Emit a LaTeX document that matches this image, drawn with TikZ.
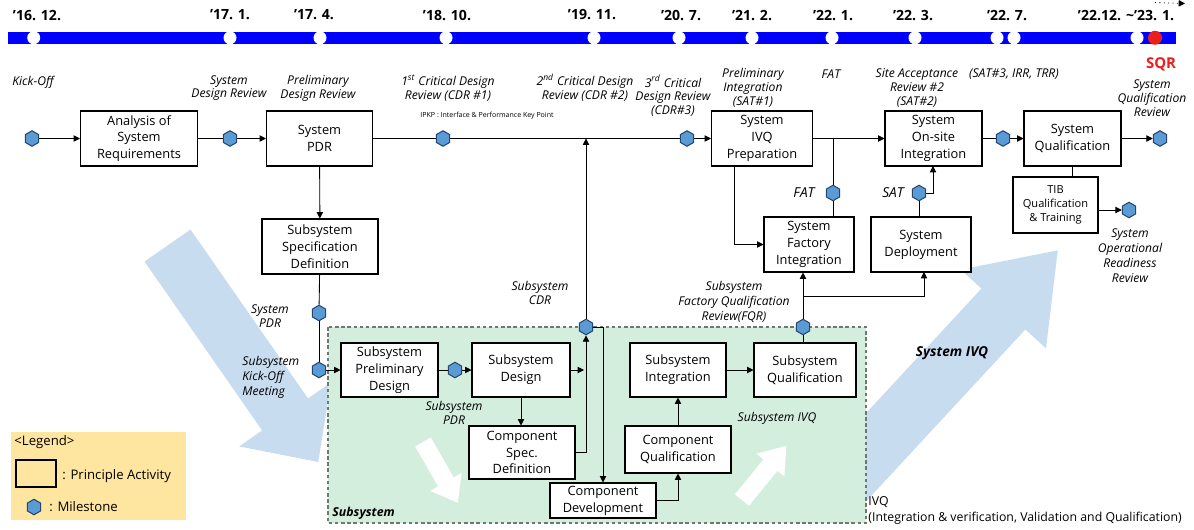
\documentclass[tikz,border=0pt]{standalone}
\usepackage{fontspec}
\setmainfont{Open Sans}
\usetikzlibrary{arrows.meta,shapes.geometric}
\definecolor{tlblue}{RGB}{0,0,255}
\definecolor{msblue}{RGB}{91,155,213}
\definecolor{msline}{RGB}{38,70,110}
\definecolor{subgreen}{RGB}{212,238,222}
\definecolor{subedge}{RGB}{110,120,115}
\definecolor{bigarrow}{RGB}{200,220,240}
\definecolor{legendbg}{RGB}{255,230,160}
\definecolor{sqrred}{RGB}{235,30,30}
\begin{document}
\begin{tikzpicture}[x=0.02cm, y=-0.02cm, >={Triangle[length=3.6pt,width=3.6pt]}, line width=0.5pt,
  act/.style={draw, line width=0.6pt, fill=white, align=center, inner sep=1pt, font=\fontsize{7.3}{9.6}\selectfont},
  ms/.style={regular polygon, regular polygon sides=6, shape border rotate=90, draw=msline, fill=msblue, line width=0.6pt, minimum size=0.31cm, inner sep=0pt},
  lbl/.style={align=center, inner sep=0pt, font=\fontsize{6.9}{7.9}\selectfont\itshape},
  tl/.style={inner sep=0pt, font=\fontsize{8}{9.6}\selectfont\bfseries},
  legendtxt/.style={inner sep=0pt, font=\fontsize{7.5}{9}\selectfont}]
\useasboundingbox (0,0) rectangle (1194,529);

% big V arrows
\fill[bigarrow] (144.5,261.5) -- (190.5,229.5) -- (308.1,398.4) -- (331,382.4) -- (318.2,462) -- (239.2,446.4) -- (262.1,430.4) -- cycle;
\fill[bigarrow] (823,459.6) -- (981.4,288.6) -- (960.8,269.6) -- (1057.8,250.3) -- (1046,348.4) -- (1025.4,329.4) -- (867,500.4) -- cycle;

% subsystem area
\draw[draw=subedge, fill=subgreen, line width=0.6pt, dash pattern=on 2pt off 1.5pt] (328,327) rectangle (866,523);
\fill[white] (415.2,446.5) -- (430.8,437.5) -- (453.7,477.4) -- (461.5,472.9) -- (457.9,502.8) -- (430.3,490.9) -- (438.1,486.4) -- cycle;
\fill[white] (735,494.3) -- (763.4,459.4) -- (756.4,453.7) -- (786.2,445.8) -- (784.4,476.5) -- (777.4,470.8) -- (749,505.7) -- cycle;
\node[anchor=west, inner sep=0pt, font=\fontsize{7}{8}\selectfont\bfseries\itshape] (subttl) at (332,513) {Subsystem};

% legend
\fill[legendbg] (11,432) rectangle (186,520);
\node[anchor=west, legendtxt] (lgd) at (14,442) {\textless Legend\textgreater};
\node[draw, line width=0.6pt, minimum width=0.8cm, minimum height=0.54cm] (lgbox) at (36,473.5) {};
\node[anchor=west, legendtxt] (lgact) at (62,476) {: Principle Activity};
\node[ms] (lgms) at (34,507) {};
\node[anchor=west, legendtxt] (lgmst) at (49,507) {: Milestone};

% timeline
\fill[tlblue] (8,32) rectangle (1176,43.5);
\foreach \x in {33.7,230,320,446,594,679,752,832,915,997,1014,1137}
  \fill[white] (\x,37.75) circle (6.5);
\fill[sqrred] (1155,37.75) circle (7);
\coordinate (sqrprev) at (1155,2.5);
\coordinate (sqrnext) at (1185,3.5);
\draw[->, dotted] (sqrprev) -- (sqrnext);
\node[tl] (t1) at (37,15) {’16. 12.};
\node[tl] (t2) at (230,15) {’17. 1.};
\node[tl] (t3) at (314,15) {’17. 4.};
\node[tl] (t4) at (447,15) {’18. 10.};
\node[tl] (t5) at (592,15) {’19. 11.};
\node[tl] (t6) at (681,15) {’20. 7.};
\node[tl] (t7) at (752,15) {’21. 2.};
\node[tl] (t8) at (833,15) {’22. 1.};
\node[tl] (t9) at (913,15) {’22. 3.};
\node[tl] (t10) at (1007,15) {’22. 7.};
\node[tl] (t11) at (1126,15) {’22.12. \textasciitilde’23. 1.};
\node[inner sep=0pt, text=sqrred, font=\fontsize{8.5}{10}\selectfont\bfseries] (sqr) at (1161,64) {SQR};

% system level
\node[ms] (h0) at (32,138.5) {};
\node[act, minimum width=2.34cm, minimum height=1.1cm] (asr) at (139,138.5) {Analysis of\\System\\Requirements};
\node[ms] (h1) at (230,138.5) {};
\node[act, minimum width=2.12cm, minimum height=1.1cm] (spdr) at (319.5,138.5) {System\\PDR};
\node[ms] (h2) at (443,138.5) {};
\node[ms] (h3) at (687,138.5) {};
\node[act, minimum width=2.02cm, minimum height=1.1cm] (ivqp) at (762,138.5) {System\\IVQ\\Preparation};
\node[act, minimum width=1.94cm, minimum height=1.1cm] (osi) at (933.5,138.5) {System\\On-site\\Integration};
\node[ms] (h4) at (1003,138.5) {};
\node[act, minimum width=1.94cm, minimum height=1.1cm] (sq) at (1072.5,138.5) {System\\Qualification};
\node[ms] (h5) at (1160,138.5) {};
\node[act, minimum width=1.7cm, minimum height=1.12cm, font=\fontsize{6.3}{7.9}\selectfont] (tib) at (1055.5,205) {TIB\\Qualification\\\& Training};
\node[ms] (horr) at (1129,210) {};
\node[act, minimum width=2.32cm, minimum height=1.1cm] (ssd) at (320,246.5) {Subsystem\\Specification\\Definition};
\node[act, minimum width=1.8cm, minimum height=1.1cm] (sfi) at (809,244.5) {System\\Factory\\Integration};
\node[act, minimum width=2cm, minimum height=1.1cm] (sdep) at (921,244.5) {System\\Deployment};
\node[ms] (hfat) at (833,193) {};
\node[ms] (hsat) at (919,193) {};
\node[ms] (hpdr) at (319,313) {};
\node[ms] (hkom) at (319,370) {};

% subsystem level
\node[act, minimum width=1.94cm, minimum height=1.08cm] (spd) at (389.5,370) {Subsystem\\Preliminary\\Design};
\node[ms] (hspdr) at (455,370) {};
\node[act, minimum width=1.96cm, minimum height=1.08cm] (sd) at (521,370) {Subsystem\\Design};
\node[act, minimum width=2.12cm, minimum height=1.06cm] (csd) at (522,452.5) {Component\\Spec.\\Definition};
\node[act, minimum width=2.12cm, minimum height=0.7cm] (cd) at (603,500.5) {Component\\Development};
\node[act, minimum width=2.12cm, minimum height=0.94cm] (cq) at (678,449.5) {Component\\Qualification};
\node[act, minimum width=1.92cm, minimum height=1.08cm] (si) at (678,370) {Subsystem\\Integration};
\node[act, minimum width=2.04cm, minimum height=1.08cm] (ssq) at (805,370) {Subsystem\\Qualification};
\node[ms] (hcdr) at (586,327) {};
\node[ms] (hfqr) at (803,327) {};

\coordinate (cdrj) at (586,138.5);
\coordinate (fatj) at (833,138.5);
\coordinate (ivqc) at (734,166);
\coordinate (osiin) at (933,166);
\coordinate (fqrj) at (803,296);
\coordinate (depin) at (924,272);
\coordinate (sdend) at (584,370);

% connectors
\draw[->] (h0) -- (asr);
\draw (asr) -- (h1);
\draw[->] (h1) -- (spdr);
\draw (spdr) -- (h2);
\draw (h2) -- (h3);
\draw[->] (h3) -- (ivqp);
\draw[->] (ivqp) -- (osi);
\draw (osi) -- (h4);
\draw[->] (h4) -- (sq);
\draw[->] (sq) -- (h5);
\draw (sq) -- (sq |- tib.north);
\draw[->] (tib.east |- horr) -- (horr);
\draw[->] (spdr) -- (ssd);
\draw (ssd) -- (hpdr);
\draw (hpdr) -- (hkom);
\draw[->] (hkom) -- (spd);
\draw (fatj) -- (hfat);
\draw (hfat) -- (hfat |- sfi.north);
\draw[->] (ivqc) |- (sfi);
\draw (hsat) -- (hsat |- sdep.north);
\draw[->] (hsat) -| (osiin);
\draw (spd) -- (hspdr);
\draw[->] (hspdr) -- (sd);
\draw[->] (sd) -- (sdend);
\draw[->] (sd) -- (sd |- csd.north);
\draw[->] (csd) -| (hcdr);
\draw[->] (hcdr) -- (cdrj);
\draw[->] (hcdr) -| (cd);
\draw[->] (cd) -| (cq);
\draw[->] (cq) -- (si);
\draw[->] (si) -- (ssq);
\draw (hfqr) -- (hfqr |- ssq.north);
\draw[->] (hfqr) -- (hfqr |- sfi.south);
\draw[->] (fqrj) -| (depin);

% milestone labels
\node[lbl] (lko) at (33,82) {Kick-Off};
\node[lbl] (lsdr) at (229,88) {System\\Design Review};
\node[lbl] (lpdr) at (318,88) {Preliminary\\Design Review};
\node[lbl] (lcdr1) at (448,88) {1\textsuperscript{st} Critical Design\\Review (CDR \#1)};
\node[anchor=west, inner sep=0pt, font=\fontsize{4}{5}\selectfont] (ipkp) at (420,116) {IPKP : Interface \& Performance Key Point};
\node[lbl] (lcdr2) at (585,88) {2\textsuperscript{nd} Critical Design\\Review (CDR \#2)};
\node[lbl] (lcdr3) at (673,96) {3\textsuperscript{rd} Critical\\Design Review\\(CDR\#3)};
\node[lbl] (lsat1) at (753,88) {Preliminary\\Integration\\(SAT\#1)};
\node[lbl] (lfat) at (831,74) {FAT};
\node[lbl] (lsat2) at (917,88) {Site Acceptance\\Review \#2\\(SAT\#2)};
\node[lbl] (lsat3) at (1014,74) {(SAT\#3, IRR, TRR)};
\node[lbl] (lsqr) at (1152,98) {System\\Qualification\\Review};
\node[lbl, font=\fontsize{6.9}{8.5}\selectfont\itshape] (lorr) at (1130,256) {System\\Operational\\Readiness\\Review};
\node[lbl, font=\fontsize{7.8}{9}\selectfont\itshape] (lfat2) at (804,193) {FAT};
\node[lbl, font=\fontsize{7.8}{9}\selectfont\itshape] (lsat) at (893,193) {SAT};
\node[lbl] (lspdr) at (270,316) {System\\PDR};
\node[lbl, anchor=west, align=left, font=\fontsize{6.9}{8.6}\selectfont\itshape] (lkom) at (242,377) {Subsystem\\Kick-Off\\Meeting};
\node[lbl] (lscdr) at (540,293) {Subsystem\\CDR};
\node[lbl, font=\fontsize{6.9}{8.6}\selectfont\itshape] (lfqr) at (734,302) {Subsystem\\Factory Qualification\\Review(FQR)};
\node[lbl] (lsubpdr) at (454,413) {Subsystem\\PDR};
\node[lbl] (lsivq) at (777,418) {Subsystem IVQ};
\node[inner sep=0pt, font=\fontsize{7.8}{9}\selectfont\bfseries\itshape] (lsysivq) at (952,353) {System IVQ};
\node[anchor=west, align=left, inner sep=0pt, font=\fontsize{7}{8.6}\selectfont] (ivqnote) at (868,510.5) {IVQ\\(Integration \& verification, Validation and Qualification)};
\end{tikzpicture}
\end{document}
